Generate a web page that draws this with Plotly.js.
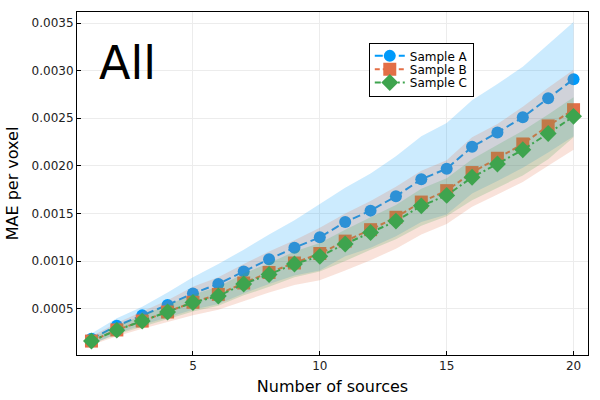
<!DOCTYPE html>
<html>
<head>
<meta charset="utf-8">
<script src="https://cdn.plot.ly/plotly-3.0.1.min.js"></script>
<style>html,body{margin:0;padding:0;background:#fff;}#chart{width:600px;height:400px;}</style>
</head>
<body>
<div id="chart"></div>
<script>
const sources = [1,2,3,4,5,6,7,8,9,10,11,12,13,14,15,16,17,18,19,20];

const meanA = [0.000185,0.00032,0.00043,0.00054,0.00066,0.00076,0.00089,0.00102,0.00114,0.00125,0.00141,0.00153,0.00168,0.00186,0.00197,0.00220,0.00235,0.00251,0.00271,0.00291];
const loA   = [0.000125,0.00024,0.00033,0.00041,0.00049,0.00055,0.00066,0.00076,0.00085,0.00090,0.00105,0.00114,0.00126,0.00141,0.00149,0.00171,0.00184,0.00198,0.00214,0.00231];
const hiA   = [0.00024,0.00040,0.00052,0.00067,0.00083,0.00097,0.00112,0.00128,0.00143,0.00160,0.00177,0.00192,0.00210,0.00231,0.00245,0.00269,0.00286,0.00304,0.00328,0.00351];

const meanB = [0.00016,0.000277,0.00037,0.000465,0.000567,0.00065,0.00077,0.00088,0.00098,0.00108,0.00121,0.00133,0.00146,0.00162,0.00174,0.00193,0.00208,0.00223,0.00242,0.00259];
const loB   = [0.00012,0.00021,0.00029,0.00036,0.00043,0.00049,0.00058,0.00067,0.00075,0.00080,0.00090,0.00101,0.00113,0.00128,0.00139,0.00157,0.00170,0.00183,0.00200,0.00217];
const hiB   = [0.00021,0.00035,0.00047,0.00059,0.00073,0.00083,0.00097,0.00110,0.00122,0.00135,0.00150,0.00163,0.00178,0.00195,0.00206,0.00230,0.00244,0.00262,0.00282,0.00301];

const meanC = [0.00016,0.000275,0.00037,0.000465,0.000565,0.000633,0.00076,0.00086,0.00097,0.00105,0.00118,0.00130,0.00142,0.00158,0.00169,0.00188,0.00202,0.00217,0.00234,0.00252];
const loC   = [0.00013,0.00023,0.00031,0.00039,0.00047,0.00053,0.00064,0.00073,0.00083,0.00089,0.00100,0.00112,0.00123,0.00137,0.00147,0.00164,0.00177,0.00190,0.00207,0.00230];
const hiC   = [0.00019,0.00032,0.00043,0.00054,0.00065,0.00073,0.00087,0.00098,0.00110,0.00119,0.00133,0.00146,0.00159,0.00176,0.00187,0.00207,0.00222,0.00237,0.00254,0.00272];

const seriesNames = ["Sample A","Sample B","Sample C"];
const xTicks = [5,10,15,20];
const yTicks = [0.0005,0.0010,0.0015,0.0020,0.0025,0.0030,0.0035];
const yTickText = ["0.0005","0.0010","0.0015","0.0020","0.0025","0.0030","0.0035"];

const colors = ["#009AFA","#E36F47","#3EA44E"];
const fills = ["rgba(0,154,250,0.2)","rgba(227,111,71,0.2)","rgba(62,164,78,0.2)"];
const symbols = ["circle","square","diamond"];
const sizes = [12,13,13];
const dashes = ["8px,4px","5px,3px","6px,3px,2px,3px"];

const groups = [[meanA,loA,hiA],[meanB,loB,hiB],[meanC,loC,hiC]];
const traces = [];
groups.forEach((g,i)=>{
  traces.push({x:sources,y:g[1],type:"scatter",mode:"lines",line:{width:0,color:colors[i]},showlegend:false,hoverinfo:"skip"});
  traces.push({x:sources,y:g[2],type:"scatter",mode:"lines",line:{width:0,color:colors[i]},fill:"tonexty",fillcolor:fills[i],showlegend:false,hoverinfo:"skip"});
  traces.push({x:sources,y:g[0],type:"scatter",mode:"lines+markers",name:seriesNames[i],
    line:{color:colors[i],width:2,dash:dashes[i]},
    marker:{symbol:symbols[i],size:sizes[i],color:colors[i],line:{width:0}}});
});

const font = "DejaVu Sans, sans-serif";
const layout = {
  width:600,height:400,
  margin:{l:77,r:12,t:12,b:45},
  paper_bgcolor:"#fff",plot_bgcolor:"#fff",
  font:{family:font,size:12,color:"#000"},
  xaxis:{range:[0.43,20.57],tickvals:xTicks,ticks:"inside",ticklen:4,tickcolor:"#000",
    showline:true,linecolor:"#000",linewidth:1,mirror:true,zeroline:false,
    showgrid:true,gridcolor:"#ececec",gridwidth:1,
    tickfont:{family:font,size:12,color:"#222"},
    title:{text:"Number of sources",font:{family:font,size:16,color:"#000"},standoff:8}},
  yaxis:{range:[0.0000138,0.003616],tickvals:yTicks,ticktext:yTickText,ticks:"inside",ticklen:4,tickcolor:"#000",
    showline:true,linecolor:"#000",linewidth:1,mirror:true,zeroline:false,
    showgrid:true,gridcolor:"#ececec",gridwidth:1,
    tickfont:{family:font,size:12,color:"#222"},
    title:{text:"MAE per voxel",font:{family:font,size:16,color:"#000"},standoff:2}},
  legend:{x:0.571,y:0.91,xanchor:"left",yanchor:"top",bgcolor:"#fff",bordercolor:"#000",borderwidth:1,
    traceorder:"normal",font:{family:font,size:12,color:"#000"},tracegroupgap:0,itemwidth:30},
  annotations:[{text:"All",xref:"paper",yref:"paper",x:0.04,y:0.85,xanchor:"left",yanchor:"middle",
    showarrow:false,font:{family:font,size:46,color:"#000"}}],
  showlegend:true
};
Plotly.newPlot("chart",traces,layout,{displayModeBar:false,staticPlot:true}).then(gd=>{
  // tighten legend row spacing to match the reference
  const items = gd.querySelectorAll(".legend .traces");
  if (items.length >= 2) {
    const parse = el => {
      const m = /translate\(\s*([-\d.]+)[ ,]+([-\d.]+)\s*\)/.exec(el.getAttribute("transform") || "");
      return m ? [parseFloat(m[1]), parseFloat(m[2])] : [0,0];
    };
    const p0 = parse(items[0]), p1 = parse(items[1]);
    const orig = p1[1] - p0[1], spacing = 13.3, lift = 2.5;
    items.forEach((el,i)=>{
      const p = parse(el);
      el.setAttribute("transform", "translate(" + p[0] + "," + (p0[1] - lift + i*spacing) + ")");
    });
    const bg = gd.querySelector(".legend rect.bg");
    if (bg) {
      const h = parseFloat(bg.getAttribute("height"));
      bg.setAttribute("height", h - (items.length-1)*(orig-spacing) - 3);
    }
  }
  const yt = gd.querySelector(".g-ytitle");
  if (yt) yt.setAttribute("transform", "translate(-6,0)");
});
</script>
</body>
</html>
